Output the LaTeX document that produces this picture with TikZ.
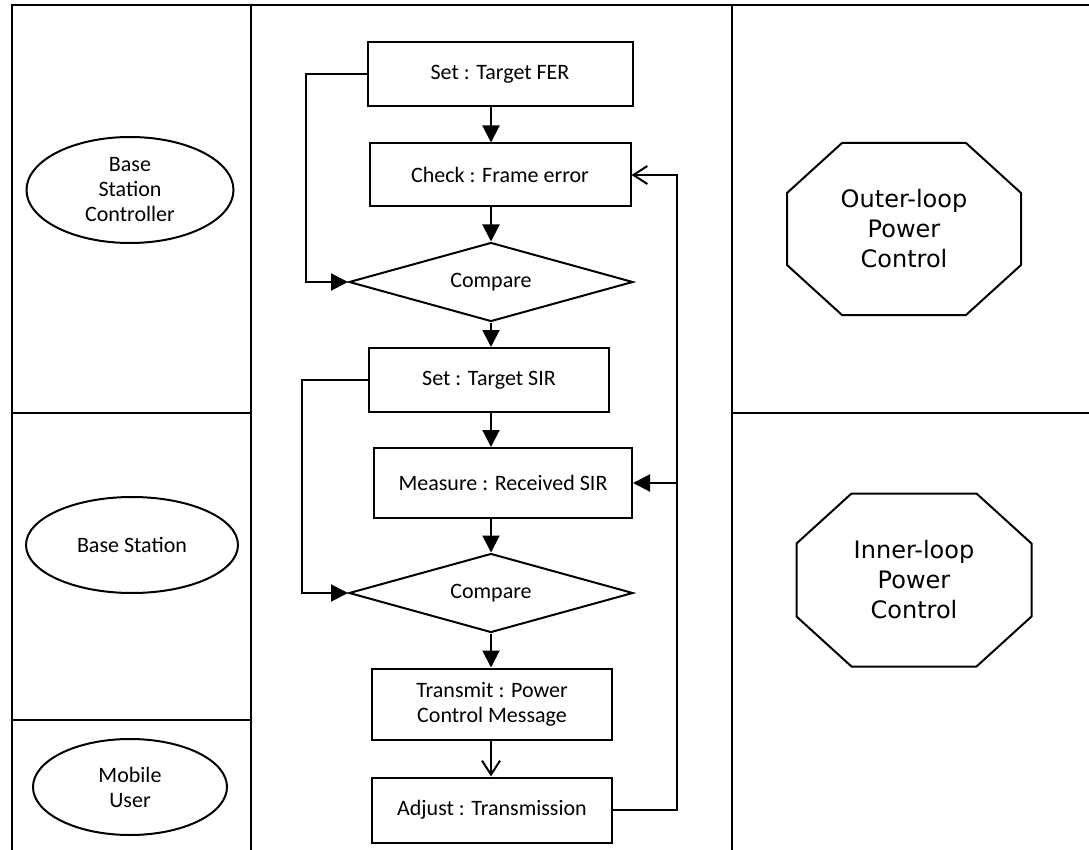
\documentclass[tikz,border=0pt]{standalone}
\usepackage{fontspec}
\setmainfont{Carlito}
\newfontfamily\octfont{DejaVu Sans}
\usetikzlibrary{shapes.geometric,arrows.meta}
\begin{document}
\begin{tikzpicture}[
	x=1pt,y=-1pt,
	line width=2pt,
	font=\fontsize{22}{25}\selectfont,
	proc/.style={rectangle,draw,align=center,inner sep=0pt},
	cmp/.style={diamond,draw,aspect=3.5,inner sep=0pt,minimum width=284pt,minimum height=79pt},
	unit/.style={ellipse,draw,align=center,inner sep=0pt},
	ctl/.style={rectangle,align=center,inner sep=0pt,
		minimum width=232pt,minimum height=170pt,
		font=\octfont\fontsize{24}{30}\selectfont},
	fa/.style={-{Triangle[length=17pt,width=17pt]}},
	oa/.style={-{Straight Barb[length=14pt,width=18pt]}},
	]
\useasboundingbox (0,0) rectangle (1089,850);
% lanes
\draw (1089,5) -- (12,5) -- (12,850);
\draw (251,5) -- (251,850);
\draw (732,5) -- (732,850);
\draw (12,413) -- (251,413) (12,720) -- (251,720);
\draw (732,413) -- (1089,413);
% actors
\node [unit,minimum width=207pt,minimum height=106pt] (bsc) at (130,190) {Base\\Station\\Controller};
\node [unit,minimum width=212pt,minimum height=96pt] (bs) at (132,545) {Base Station};
\node [unit,minimum width=194pt,minimum height=96pt] (mu) at (130,787) {Mobile\\User};
% flow
\node [proc,minimum width=265pt,minimum height=64pt] (fer) at (500,74) {Set : Target FER};
\node [proc,minimum width=261pt,minimum height=63pt] (chk) at (500,175) {Check : Frame error};
\node [cmp] (cmpa) at (491,282) {Compare};
\node [proc,minimum width=240pt,minimum height=64pt] (sir) at (489,380) {Set : Target SIR};
\node [proc,minimum width=258pt,minimum height=70pt] (meas) at (503,483) {Measure : Received SIR};
\node [cmp] (cmpb) at (491,593) {Compare};
\node [proc,minimum width=240pt,minimum height=71pt] (tx) at (492,704) {Transmit : Power\\Control Message};
\node [proc,minimum width=240pt,minimum height=65pt] (adj) at (492,810) {Adjust : Transmission};
\coordinate (rx) at (677,810);
% loops
\node [ctl] (outer) at (904,229) {Outer-loop\\Power\\Control};
\node [ctl,minimum width=233pt,minimum height=171pt] (inner) at (914,580) {Inner-loop\\Power\\Control};
\foreach \n in {outer,inner}
	\draw ([xshift=55pt]\n.north west) -- ([xshift=-55pt]\n.north east)
		-- ([yshift=-50pt]\n.north east) -- ([yshift=50pt]\n.south east)
		-- ([xshift=-55pt]\n.south east) -- ([xshift=55pt]\n.south west)
		-- ([yshift=50pt]\n.south west) -- ([yshift=-50pt]\n.north west) -- cycle;
% arrows
\draw [fa] (cmpa |- fer.south) -- (cmpa |- chk.north);
\draw [fa] (cmpa |- chk.south) -- (cmpa.north);
\draw [fa] (cmpa.south) -- (cmpa |- sir.north);
\draw [fa] (cmpb |- sir.south) -- (cmpb |- meas.north);
\draw [fa] (cmpb |- meas.south) -- (cmpb.north);
\draw [fa] (cmpb.south) -- (cmpb |- tx.north);
\draw [oa] (cmpb |- tx.south) -- (cmpb |- adj.north);
\draw [fa] (fer.west) -- ++(-61,0) |- (cmpa.west);
\draw [fa] (sir.west) -- ++(-66,0) |- (cmpb.west);
\draw [oa] (adj.east) -- (rx) |- (chk.east);
\draw [fa] (rx |- meas.east) -- (meas.east);
\end{tikzpicture}
\end{document}
